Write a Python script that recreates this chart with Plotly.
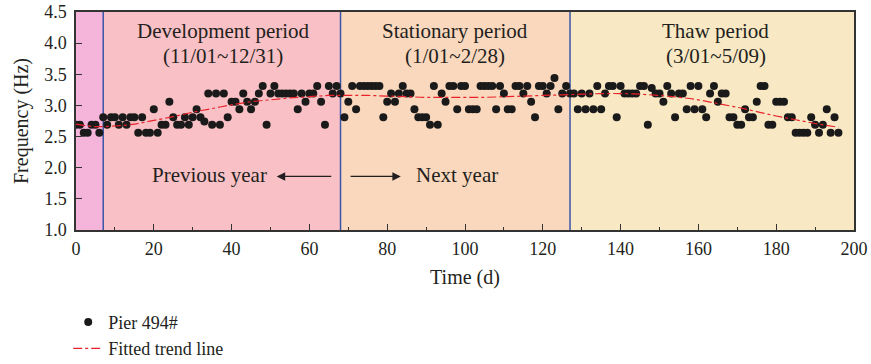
import plotly.graph_objects as go

# ---- data ----
freq = [
    2.69, 2.69, 2.56, 2.56, 2.69, 2.69, 2.56, 2.81, 2.69, 2.81,
    2.81, 2.69, 2.81, 2.69, 2.81, 2.81, 2.56, 2.81, 2.56, 2.56,
    2.94, 2.56, 2.69, 2.69, 3.06, 2.81, 2.69, 2.69, 2.81, 2.69,
    2.81, 2.94, 2.81, 2.74, 3.19, 2.69, 3.19, 2.69, 3.19, 2.81,
    3.06, 3.06, 2.94, 3.19, 3.06, 2.94, 3.06, 3.19, 3.31, 2.69,
    3.19, 3.31, 3.19, 3.19, 3.19, 3.19, 3.19, 2.94, 3.19, 3.06,
    3.19, 3.19, 3.31, 3.06, 2.69, 3.31, 3.19, 3.31, 3.19, 2.81,
    3.06, 3.31, 2.94, 3.31, 3.31, 3.31, 3.31, 3.31, 3.31, 2.81,
    3.06, 3.19, 3.06, 3.19, 3.31, 3.19, 3.19, 2.94, 2.81, 2.81,
    2.81, 2.69, 3.31, 2.69, 3.19, 3.06, 3.31, 3.31, 2.94, 3.31,
    3.31, 2.94, 2.94, 2.94, 3.31, 3.31, 3.31, 3.31, 2.94, 3.31,
    3.19, 2.94, 2.94, 3.31, 3.31, 3.19, 3.31, 3.06, 2.81, 3.31,
    3.31, 3.19, 3.31, 3.44, 2.94, 3.19, 3.31, 3.19, 3.19, 2.94,
    3.19, 2.94, 3.19, 2.94, 3.31, 2.94, 3.19, 3.31, 3.31, 2.81,
    3.31, 3.19, 3.19, 3.19, 3.19, 3.31, 3.31, 2.69, 3.28, 3.19,
    3.19, 3.06, 3.31, 3.19, 2.81, 3.19, 3.19, 2.94, 3.31, 2.94,
    3.31, 2.94, 2.81, 3.19, 3.31, 3.06, 3.19, 3.19, 2.81, 2.81,
    2.69, 2.69, 2.94, 2.81, 2.81, 3.06, 3.31, 3.31, 2.69, 2.69,
    3.06, 3.06, 3.06, 2.81, 2.81, 2.56, 2.56, 2.56, 2.56, 2.81,
    2.69, 2.56, 2.69, 2.94, 2.56, 2.81, 2.56,
]
days = list(range(len(freq)))

trend_days = [0, 5, 10, 15, 20, 25, 30, 35, 40, 45, 50, 55, 60, 65, 70, 75,
              80, 85, 90, 95, 100, 105, 110, 115, 120, 125, 130, 135, 140,
              145, 150, 155, 160, 165, 170, 175, 180, 185, 190, 196]
trend_freq = [2.70, 2.66, 2.67, 2.70, 2.76, 2.82, 2.89, 2.95, 3.01, 3.06,
              3.09, 3.12, 3.14, 3.16, 3.16, 3.16, 3.15, 3.14, 3.13, 3.13,
              3.13, 3.13, 3.14, 3.15, 3.16, 3.17, 3.18, 3.19, 3.19, 3.18,
              3.16, 3.13, 3.09, 3.03, 2.97, 2.90, 2.83, 2.77, 2.71, 2.65]

period_bounds = [0, 7, 68, 127, 200]
period_colors = ["#f5b4d9", "#f9c1c5", "#fad8bd", "#f8e8c4"]
period_names = ["Development period", "Stationary period", "Thaw period"]
period_dates = ["(11/01~12/31)", "(1/01~2/28)", "(3/01~5/09)"]
period_label_x = [37.8, 97.4, 164.5]

FONT = "Liberation Serif"
TXT = "#231f20"

fig = go.Figure()

fig.add_trace(go.Scatter(
    x=days, y=freq, mode="markers", name="Pier 494#",
    marker=dict(color="#1a1a1a", size=8, line=dict(width=0)),
))
fig.add_trace(go.Scatter(
    x=trend_days, y=trend_freq, mode="lines", name="Fitted trend line",
    line=dict(color="#e8212a", width=1.2, dash="dashdot", shape="spline"),
))

shapes = []
for i in range(len(period_colors)):
    shapes.append(dict(type="rect", xref="x", yref="y",
                       x0=period_bounds[i], x1=period_bounds[i + 1],
                       y0=1.0, y1=4.5, fillcolor=period_colors[i],
                       line=dict(width=0), layer="below"))
for b in period_bounds[1:-1]:
    shapes.append(dict(type="line", xref="x", yref="y", x0=b, x1=b,
                       y0=1.0, y1=4.5, line=dict(color="#3b56a8", width=1.5),
                       layer="below"))

annotations = []
for name, date, xc in zip(period_names, period_dates, period_label_x):
    annotations.append(dict(x=xc, y=4.20, text=name, showarrow=False,
                            font=dict(family=FONT, size=21, color=TXT)))
    annotations.append(dict(x=xc, y=3.80, text=date, showarrow=False,
                            font=dict(family=FONT, size=21, color=TXT)))

annotations.append(dict(x=34.4, y=1.88, text="Previous year", showarrow=False,
                        font=dict(family=FONT, size=21, color=TXT)))
annotations.append(dict(x=98.0, y=1.88, text="Next year", showarrow=False,
                        font=dict(family=FONT, size=21, color=TXT)))
annotations.append(dict(x=51.6, y=1.86, ax=66.0, ay=1.86, axref="x", ayref="y",
                        xref="x", yref="y", text="", showarrow=True,
                        arrowhead=2, arrowsize=1.3, arrowwidth=1.3,
                        arrowcolor=TXT))
annotations.append(dict(x=83.5, y=1.86, ax=70.2, ay=1.86, axref="x", ayref="y",
                        xref="x", yref="y", text="", showarrow=True,
                        arrowhead=2, arrowsize=1.3, arrowwidth=1.3,
                        arrowcolor=TXT))

fig.update_layout(
    width=871, height=364,
    margin=dict(l=76, r=17, t=12, b=134, autoexpand=False),
    paper_bgcolor="white", plot_bgcolor="white",
    font=dict(family=FONT, size=18, color=TXT),
    shapes=shapes, annotations=annotations,
    showlegend=True,
    legend=dict(x=-0.01, y=-0.338, xanchor="left", yanchor="top",
                bgcolor="rgba(0,0,0,0)", font=dict(family=FONT, size=18),
                tracegroupgap=0, itemwidth=30),
)
fig.update_xaxes(
    range=[0, 200], dtick=20, tick0=0, ticks="inside", ticklen=6,
    tickcolor="#333", showline=True, linecolor="#333", linewidth=1.5,
    mirror=True, showgrid=False, zeroline=False, automargin=False,
    ticklabelstandoff=2,
    minor=dict(dtick=10, ticks="inside", ticklen=3, tickcolor="#333"),
    title=dict(text="Time (d)", font=dict(family=FONT, size=20), standoff=12),
    tickfont=dict(family=FONT, size=18),
)
fig.update_yaxes(
    range=[1.0, 4.5], dtick=0.5, tick0=1.0, tickformat=".1f",
    ticks="inside", ticklen=6, tickcolor="#333",
    showline=True, linecolor="#333", linewidth=1.5, mirror=True,
    showgrid=False, zeroline=False, automargin=False,
    ticklabelstandoff=4,
    title=dict(text="Frequency (Hz)", font=dict(family=FONT, size=20), standoff=10),
    tickfont=dict(family=FONT, size=18),
)

fig.write_html("out.html")
